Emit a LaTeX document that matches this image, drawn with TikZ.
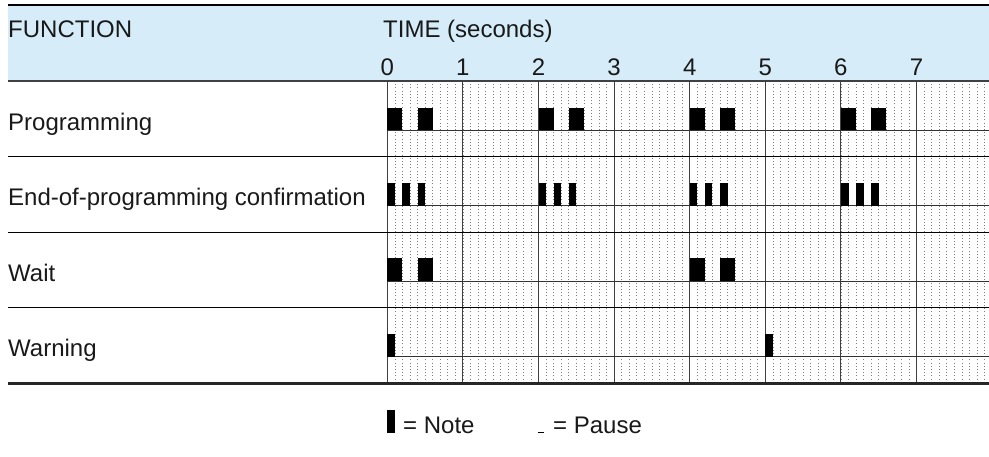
\documentclass[tikz,border=0pt]{standalone}
\usepackage{fontspec}
\setmainfont{Liberation Sans}
\definecolor{headblue}{RGB}{214,237,249}
\begin{document}
\begin{tikzpicture}[x=1pt,y=-1pt,font=\fontsize{24}{28}\selectfont,
    lbl/.style={anchor=base west,inner sep=0pt,text=black!90},
    dots/.style={black!50,line width=.6pt,dash pattern=on .6pt off 2.6pt}]
  \useasboundingbox (0,0) rectangle (989,456);
  \fill[headblue] (8,5) rectangle (989,80.5);
  \draw[line width=1.6pt] (8,5)--(989,5);
  \node[lbl](func)at(8,37.3){FUNCTION};
  \node[lbl](time)at(383,37.3){TIME (seconds)};
  \foreach \x in {0,...,7}
    \node[anchor=base,inner sep=0pt,text=black!90](T\x)at({387.3+75.6*\x},75){\x};
  \foreach \x in {1,...,79}
    \draw[dots]({387.3+7.56*\x},81)--({387.3+7.56*\x},383);
  \foreach \x in {0,...,7}
    \draw[line width=1pt,black!75]({387.3+75.6*\x},81)--({387.3+75.6*\x},383);
  \foreach \r/\t in {0/Programming,1/End-of-programming confirmation,2/Wait,3/Warning}{
    \node[lbl](L\r)at(8,{130+75.6*\r}){\t};
    \draw[line width=.9pt,black!80](387.3,{130+75.6*\r})--(989,{130+75.6*\r});
    \ifnum\r>0
      \draw[line width=1pt](8,{81+75.6*\r})--(989,{81+75.6*\r});
    \fi
  }
  \draw[line width=2pt,black!75](8,80.5)--(989,80.5);
  \draw[line width=2.6pt,black!85](8,383.3)--(989,383.3);
  \foreach \s in {0,2,4,6}{
    \foreach \o in {0,.4}
      \fill({387.3+75.6*(\s+\o)},130)rectangle++(15.1,-22.5);
    \foreach \o in {0,.2,.4}
      \fill({387.3+75.6*(\s+\o)},205.6)rectangle++(7.6,-23);
  }
  \foreach \s in {0,4}
    \foreach \o in {0,.4}
      \fill({387.3+75.6*(\s+\o)},281.2)rectangle++(15.1,-23);
  \foreach \s in {0,5}
    \fill({387.3+75.6*\s},356.8)rectangle++(7.6,-23);
  \fill(386.7,410)rectangle(395,432.5);
  \node[lbl](note)at(403,433){= Note};
  \fill(538,431.6)rectangle(544,432.8);
  \node[lbl](pause)at(553,433){= Pause};
\end{tikzpicture}
\end{document}
